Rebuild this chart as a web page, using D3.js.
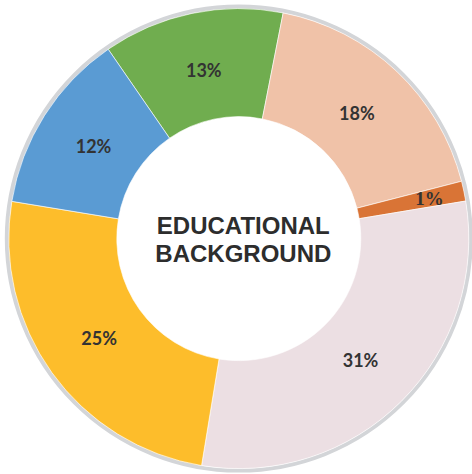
<!DOCTYPE html>
<html>
<head>
<meta charset="utf-8">
<script src="https://cdn.jsdelivr.net/npm/d3@7"></script>
<style>
  html, body { margin: 0; padding: 0; background: #ffffff; }
  svg { display: block; }
</style>
</head>
<body>
<svg id="chart" width="472" height="474"></svg>
<script>
// Data, clockwise from the blue/green boundary
const categories = ["Green", "Peach", "Orange", "Pink", "Yellow", "Blue"];
const shares = [12.7, 17.9, 1.4, 30.2, 25.0, 12.8];
const labels = ["13%", "18%", "1%", "31%", "25%", "12%"];
const colors = ["#70ad4f", "#f0c2a8", "#d97436", "#ecdfe3", "#fdbd2b", "#5a9bd3"];
const titleLines = ["EDUCATIONAL", "BACKGROUND"];

const svg = d3.select("#chart");
const cx = 238.8, cy = 238.6;
const outerR = 230, innerR = 122;
const startDeg = -34.6;

const g = svg.append("g").attr("transform", `translate(${cx},${cy})`);

// gray rim
g.append("circle")
  .attr("r", outerR + 2)
  .attr("fill", "none")
  .attr("stroke", "#d3d5d8")
  .attr("stroke-width", 4);

const pie = d3.pie()
  .sort(null)
  .value(d => d)
  .startAngle(startDeg * Math.PI / 180)
  .endAngle((startDeg + 360) * Math.PI / 180);

const arcs = pie(shares);
const arc = d3.arc().innerRadius(innerR).outerRadius(outerR);

g.selectAll("path.slice")
  .data(arcs)
  .enter().append("path")
  .attr("class", "slice")
  .attr("d", arc)
  .attr("fill", (d, i) => colors[i])
  .attr("stroke", "#ffffff")
  .attr("stroke-width", 0.6);

const labelArc = d3.arc().innerRadius(172).outerRadius(172);
const smallArc = d3.arc().innerRadius(195).outerRadius(195);

g.selectAll("text.pct")
  .data(arcs)
  .enter().append("text")
  .attr("class", "pct")
  .attr("transform", (d, i) => {
    const c = (shares[i] < 3 ? smallArc : labelArc).centroid(d);
    return `translate(${c[0]},${c[1]})`;
  })
  .attr("text-anchor", "middle")
  .attr("dy", "0.36em")
  .attr("font-family", (d, i) => shares[i] < 3 ? "'Liberation Serif', serif" : "Lato, 'Noto Sans', sans-serif")
  .attr("font-weight", "bold")
  .attr("font-size", (d, i) => shares[i] < 3 ? "19px" : "18px")
  .attr("fill", "#333333")
  .text((d, i) => labels[i]);

// center title
const title = g.append("text")
  .attr("text-anchor", "middle")
  .attr("font-family", "'Liberation Sans', Arial, sans-serif")
  .attr("font-weight", "bold")
  .attr("font-size", "24px")
  .attr("fill", "#2d2d2d");
title.selectAll("tspan")
  .data(titleLines)
  .enter().append("tspan")
  .attr("x", 4.5)
  .attr("y", (d, i) => -4.6 + i * 28)
  .text(d => d);
</script>
</body>
</html>
